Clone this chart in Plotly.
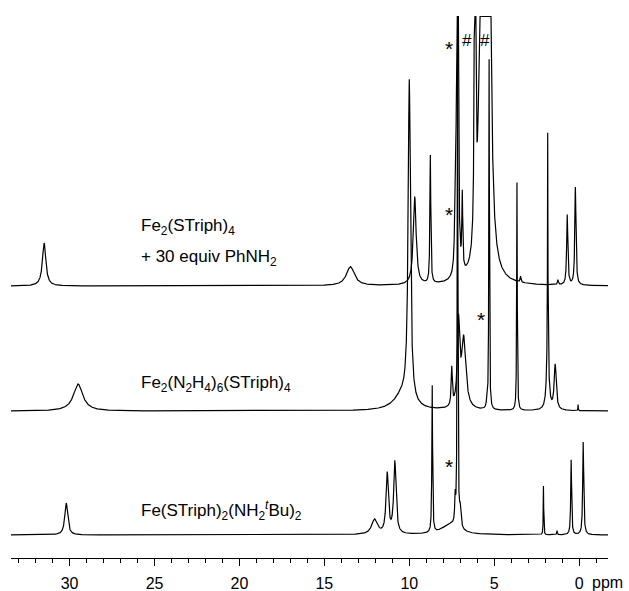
import numpy as np
import plotly.graph_objects as go

# ---------------- data ----------------
# peak lists: chemical shift (ppm), height (intensity units), half width (ppm)
top_pos = [31.5, 13.47, 9.68, 8.76, 7.30, 7.22, 7.16, 6.88, 6.13, 5.72, 5.34, 3.45, 1.25, 0.70, 0.22]
top_hgt = [43, 19, 88, 128, 55, 35, 2000, 75, 1500, 800, 800, 6, 5, 70, 98]
top_wid = [0.12, 0.28, 0.10, 0.03, 0.04, 0.03, 0.02, 0.03, 0.02, 0.10, 0.10, 0.03, 0.03, 0.04, 0.04]

mid_pos = [29.5, 10.4, 10.0, 7.50, 7.10, 6.80, 5.43, 5.30, 3.66, 1.85, 1.85, 1.41, 0.06]
mid_hgt = [27, 15, 321, 38, 82, 70, 8, 350, 228, 55, 222, 45, 6]
mid_wid = [0.33, 0.6, 0.08, 0.04, 0.08, 0.15, 0.03, 0.02, 0.02, 0.08, 0.015, 0.07, 0.01]

bot_pos = [30.2, 12.05, 11.3, 10.85, 8.65, 7.6, 7.30, 7.16, 7.0, 2.10, 1.30, 0.47, -0.24]
bot_hgt = [32, 15, 60, 72, 147, 10, 25, 600, 18, 49, 4, 75, 93]
bot_wid = [0.10, 0.20, 0.08, 0.08, 0.025, 0.6, 0.03, 0.02, 0.05, 0.015, 0.02, 0.03, 0.035]

labels = ["Fe<sub>2</sub>(STriph)<sub>4</sub>",
          "+ 30 equiv PhNH<sub>2</sub>",
          "Fe<sub>2</sub>(N<sub>2</sub>H<sub>4</sub>)<sub>6</sub>(STriph)<sub>4</sub>",
          "Fe(STriph)<sub>2</sub>(NH<sub>2</sub><sup><i>t</i></sup>Bu)<sub>2</sub>"]

tick_vals = [30, 25, 20, 15, 10, 5, 0]
tick_text = ["30", "25", "20", "15", "10", "5", "0"]

# ---------------- layout constants ----------------
X_LEFT, X_RIGHT = 33.45, -1.70
Y_TOP = 542
BASE_TOP, BASE_MID, BASE_BOT = 272, 147, 23

x = np.linspace(X_LEFT, X_RIGHT, 14001)


def spectrum(pos, hgt, wid, base):
    y = np.zeros_like(x)
    for p, h, w in zip(pos, hgt, wid):
        y += h * w * w / ((x - p) ** 2 + w * w)
    return np.minimum(y + base, Y_TOP - 0.5)


fig = go.Figure()
for pos, hgt, wid, base in [(top_pos, top_hgt, top_wid, BASE_TOP),
                            (mid_pos, mid_hgt, mid_wid, BASE_MID),
                            (bot_pos, bot_hgt, bot_wid, BASE_BOT)]:
    fig.add_trace(go.Scatter(x=x, y=spectrum(pos, hgt, wid, base), mode="lines",
                             line=dict(color="black", width=1.2), hoverinfo="skip",
                             showlegend=False))

FONT = "Liberation Sans, Arial, Helvetica, sans-serif"
ann = []
label_pos = [(25.9, 331), (25.9, 300), (25.9, 174), (25.9, 48)]
for t, (ax, ay) in zip(labels, label_pos):
    ann.append(dict(x=ax, y=ay, text=t, showarrow=False, xanchor="left", yanchor="middle",
                    font=dict(family=FONT, size=17, color="black")))

marks = [("*", 7.65, 510, 21), ("#", 6.59, 518, 17), ("#", 5.53, 518, 17),
         ("*", 7.65, 344, 21), ("*", 5.76, 239, 21), ("*", 7.65, 92, 21)]
for t, ax, ay, sz in marks:
    ann.append(dict(x=ax, y=ay, text=t, showarrow=False, xanchor="center", yanchor="middle",
                    font=dict(family=FONT, size=sz, color="black")))

ann.append(dict(x=-1.65, y=-0.0443, yref="paper", text="ppm", showarrow=False,
                xanchor="center", yanchor="middle",
                font=dict(family=FONT, size=16, color="black")))

fig.update_layout(
    width=629, height=591,
    margin=dict(l=11, r=21, t=16, b=33, autoexpand=False),
    paper_bgcolor="white", plot_bgcolor="white",
    annotations=ann,
    xaxis=dict(range=[X_LEFT, X_RIGHT], showgrid=False, zeroline=False, automargin=False,
               showline=True, linecolor="black", linewidth=1.3,
               ticks="outside", ticklen=7, tickwidth=1.3, tickcolor="black",
               tickvals=tick_vals, ticktext=tick_text, ticklabelstandoff=4,
               tickfont=dict(family=FONT, size=16, color="black"),
               minor=dict(dtick=1, tick0=0, ticks="outside", ticklen=4,
                          tickwidth=1.3, tickcolor="black", showgrid=False)),
    yaxis=dict(range=[0, Y_TOP], visible=False, showgrid=False, zeroline=False,
               automargin=False),
)

fig.write_html("out.html", config={"displayModeBar": False},
               post_script="document.body.style.margin='0';document.body.style.overflow='hidden';")
